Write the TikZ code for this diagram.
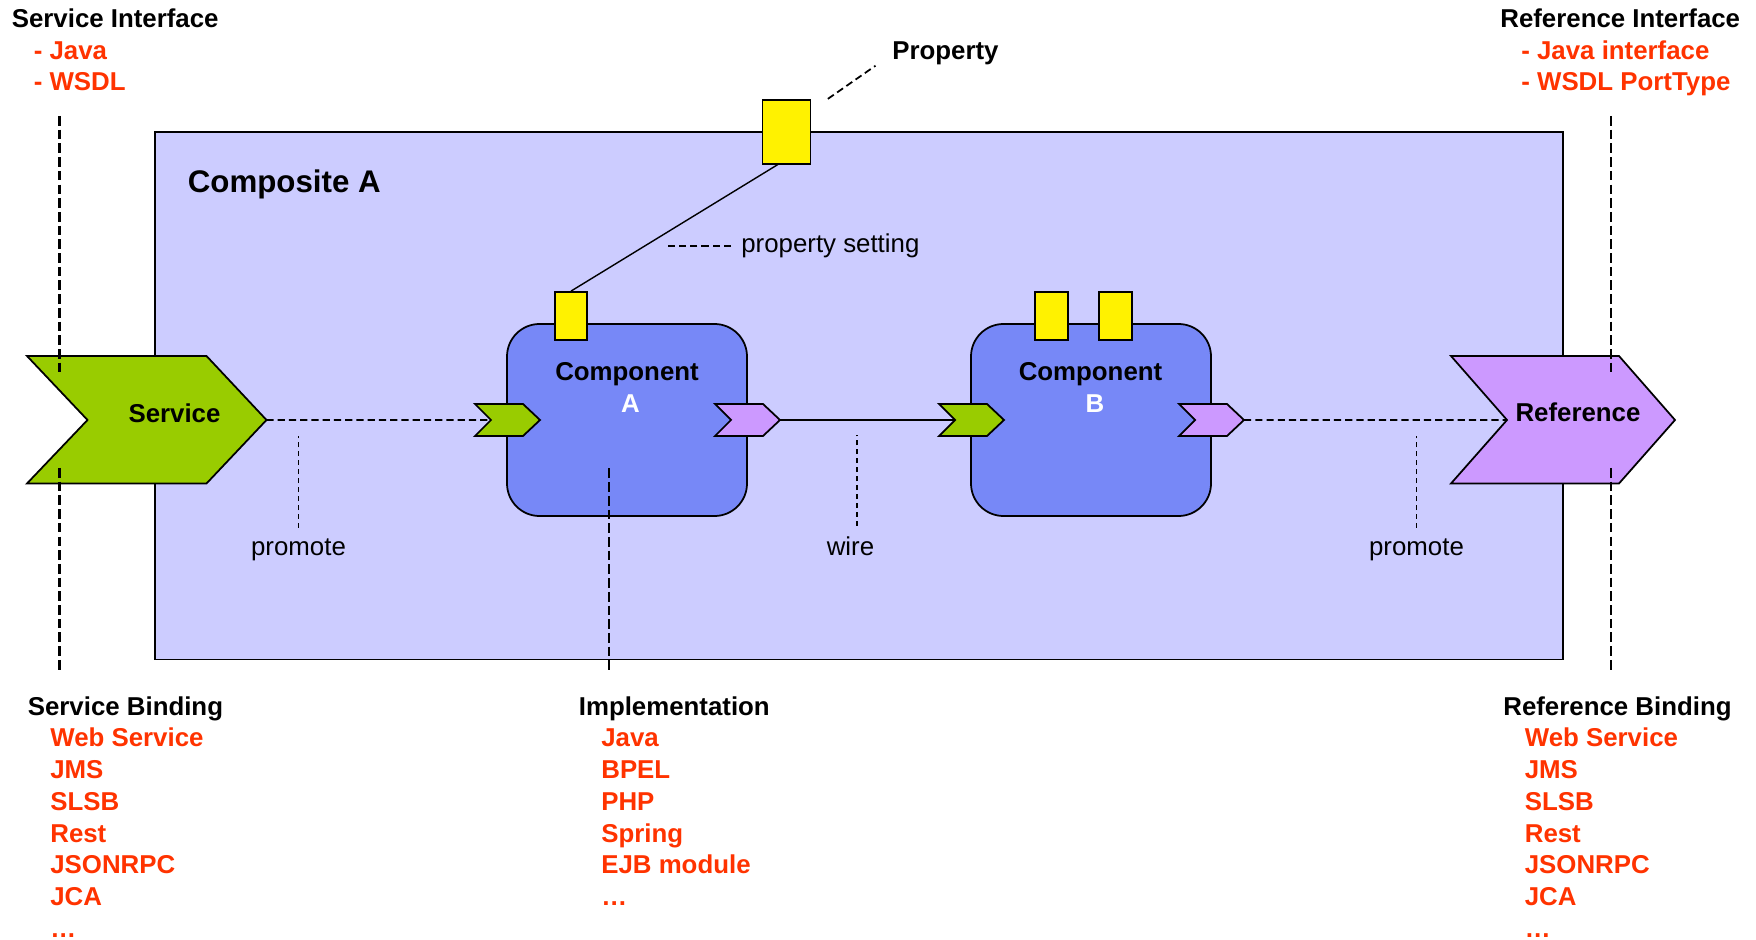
\documentclass[tikz,border=0pt]{standalone}
\usepackage{fontspec}
\setmainfont{Liberation Sans}

\definecolor{compofill}{HTML}{CCCCFF}
\definecolor{compblue}{HTML}{7788F7}
\definecolor{svcgreen}{HTML}{99CC00}
\definecolor{refpurple}{HTML}{CC99FF}
\definecolor{listred}{HTML}{FF3300}

\begin{document}
\begin{tikzpicture}[
        every node/.style={inner sep=0pt, font=\fontsize{14.7}{18}\selectfont\bfseries},
        composite/.style={draw=black, line width=1pt, fill=compofill, minimum width=28.16cm, minimum height=10.55cm},
        comp/.style={draw=black, line width=1pt, fill=compblue, rounded corners=0.65cm, minimum width=4.8cm, minimum height=3.84cm},
        prop/.style={draw=black, line width=1pt, fill=yellow, minimum width=0.65cm, minimum height=0.96cm},
        port/.style={draw=black, line width=1pt},
        hint/.style={dash pattern=on 4.1pt off 2.3pt, line width=1pt},
        lblline/.style={dash pattern=on 2.8pt off 2.3pt, line width=1.1pt},
        ifline/.style={dash pattern=on 5.5pt off 2.3pt, line width=1.2pt},
        head/.style={anchor=base west},
        item/.style={anchor=base west, text=listred},
        note/.style={anchor=base, font=\fontsize{14.7}{18}\selectfont}
        ]
        \useasboundingbox (0,0) rectangle (35.12,-18.8);

        % composite
        \node[composite] (compo) at (17.18,-7.915) {};
        \node[head, font=\fontsize{17.8}{21}\selectfont\bfseries] (componame) at (3.75,-3.85) {Composite A};

        % service and reference
        \draw[port, fill=svcgreen] (0.54,-7.12) -- (4.13,-7.12) -- (5.33,-8.4) coordinate (svc tip)
            -- (4.13,-9.67) -- (0.54,-9.67) -- (1.75,-8.4) -- cycle;
        \node[anchor=base] (svc) at (3.49,-8.45) {Service};
        \draw[port, fill=refpurple] (29.02,-7.12) -- (32.38,-7.12) -- (33.5,-8.4)
            -- (32.38,-9.67) -- (29.02,-9.67) -- (30.14,-8.4) coordinate (ref notch) -- cycle;
        \node[anchor=base] (ref) at (31.56,-8.43) {Reference};

        % interface, binding and implementation lines
        \coordinate (si top) at (1.19,-2.32);
        \coordinate (si end) at (1.19,-7.44);
        \coordinate (sb top) at (1.19,-9.36);
        \coordinate (sb end) at (1.19,-13.4);
        \coordinate (ri top) at (32.22,-2.32);
        \coordinate (ri end) at (32.22,-7.44);
        \coordinate (rb top) at (32.22,-9.36);
        \coordinate (rb end) at (32.22,-13.4);
        \coordinate (im top) at (12.18,-9.37);
        \coordinate (im end) at (12.18,-13.4);
        \draw[ifline] (si top) -- (si end);
        \draw[ifline] (sb top) -- (sb end);
        \draw[ifline] (ri top) -- (ri end);
        \draw[ifline] (rb top) -- (rb end);

        % components
        \node[comp] (compA) at (12.54,-8.4) {};
        \node[comp] (compB) at (21.82,-8.4) {};
        \draw[ifline] (im top) -- (im end);
        \node[prop, minimum width=0.96cm, minimum height=1.28cm] (prop) at (15.73,-2.635) {};
        \node[prop] (propA) at (11.42,-6.32) {};
        \node[prop] (propB1) at (21.03,-6.32) {};
        \node[prop] (propB2) at (22.31,-6.32) {};
        \node[anchor=base] (compA name) at (12.54,-7.62) {Component};
        \node[anchor=base, text=white] (compA id) at (12.61,-8.26) {A};
        \node[anchor=base] (compB name) at (21.81,-7.62) {Component};
        \node[anchor=base, text=white] (compB id) at (21.9,-8.26) {B};

        % ports
        \draw[port, fill=svcgreen] (9.5,-8.08) -- ++(0.96,0) -- ++(0.34,-0.32) -- ++(-0.34,-0.32)
            -- ++(-0.96,0) -- ++(0.32,0.32) coordinate (a in) -- cycle;
        \draw[port, fill=refpurple] (14.3,-8.08) -- ++(0.96,0) -- ++(0.34,-0.32) coordinate (a out)
            -- ++(-0.34,-0.32) -- ++(-0.96,0) -- ++(0.32,0.32) -- cycle;
        \draw[port, fill=svcgreen] (18.78,-8.08) -- ++(0.96,0) -- ++(0.34,-0.32) -- ++(-0.34,-0.32)
            -- ++(-0.96,0) -- ++(0.32,0.32) coordinate (b in) -- cycle;
        \draw[port, fill=refpurple] (23.58,-8.08) -- ++(0.96,0) -- ++(0.34,-0.32) coordinate (b out)
            -- ++(-0.34,-0.32) -- ++(-0.96,0) -- ++(0.32,0.32) -- cycle;

        % promote, wire, property setting
        \draw[hint] (svc tip) -- (a in);
        \draw[line width=0.8pt] (a out) -- (b in);
        \draw[hint] (b out) -- (ref notch);
        \draw[line width=0.8pt] (prop.-105) -- (propA.north);

        \node[note] (promL) at (5.97,-11.12) {promote};
        \draw[lblline] ([yshift=0.22cm]promL.north) -- ++(0,1.83);
        \node[note] (wirelbl) at (17.01,-11.12) {wire};
        \draw[lblline] ([xshift=0.13cm, yshift=0.22cm]wirelbl.north) -- ++(0,1.82);
        \node[note] (promR) at (28.33,-11.12) {promote};
        \draw[lblline] ([yshift=0.22cm]promR.north) -- ++(0,1.83);
        \node[note, anchor=base west] (pset) at (14.82,-5.05) {property setting};
        \draw[hint] ([xshift=-0.2cm]pset.west) -- ++(-1.29,0);
        \node[head] (proplbl) at (17.84,-1.2) {Property};
        \draw[hint] ([xshift=0.33cm]prop.north east) -- ([xshift=-0.33cm]proplbl.south west);

        % interfaces
        \node[head] (siface) at (0.23,-0.56) {Service Interface};
        \node[item] (sijava) at (0.67,-1.2) {- Java};
        \node[item] (siwsdl) at (0.67,-1.82) {- WSDL};
        \node[head] (riface) at (30.0,-0.56) {Reference Interface};
        \node[item] (rijava) at (30.42,-1.2) {- Java interface};
        \node[item] (riwsdl) at (30.42,-1.82) {- WSDL PortType};

        % bindings and implementation
        \node[head] (sbind) at (0.55,-14.3) {Service Binding};
        \foreach \t [count=\i] in {Web Service, JMS, SLSB, Rest, JSONRPC, JCA, …}
            \node[item] (sb\i) at (1.0,-14.3-0.635*\i) {\t};
        \node[head] (impl) at (11.57,-14.3) {Implementation};
        \foreach \t [count=\i] in {Java, BPEL, PHP, Spring, EJB module, …}
            \node[item] (im\i) at (12.02,-14.3-0.635*\i) {\t};
        \node[head] (rbind) at (30.06,-14.3) {Reference Binding};
        \foreach \t [count=\i] in {Web Service, JMS, SLSB, Rest, JSONRPC, JCA, …}
            \node[item] (rb\i) at (30.49,-14.3-0.635*\i) {\t};
    \end{tikzpicture}
\end{document}
